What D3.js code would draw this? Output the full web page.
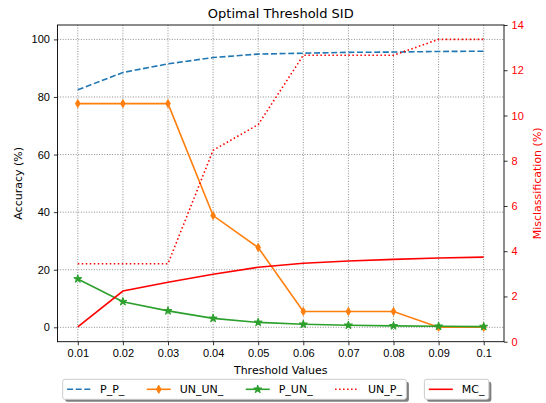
<!DOCTYPE html>
<html>
<head>
<meta charset="utf-8">
<script src="https://d3js.org/d3.v7.min.js"></script>
<style>
  body { margin: 0; padding: 0; background: #fff; }
  svg { display: block; font-family: "DejaVu Sans", sans-serif; }
  .grid line { stroke: #808080; stroke-width: 0.9; stroke-dasharray: 1,1.6; }
  .axis path { stroke: none; }
  .axis line { stroke: #000; stroke-width: 0.8; }
  .axis text { font-size: 11px; fill: #000; }
  .axis.right text { fill: #ff0000; }
</style>
</head>
<body>
<div id="chart"></div>
<script>
  // data
  var thresholds = [0.01, 0.02, 0.03, 0.04, 0.05, 0.06, 0.07, 0.08, 0.09, 0.1];
  var tickLabels = ["0.01", "0.02", "0.03", "0.04", "0.05", "0.06", "0.07", "0.08", "0.09", "0.1"];
  var accTicks = [0, 20, 40, 60, 80, 100];
  var misTicks = [0, 2, 4, 6, 8, 10, 12, 14];

  var P_P_   = [82.5, 88.5, 91.5, 93.7, 94.9, 95.2, 95.5, 95.6, 95.8, 95.9];
  var UN_UN_ = [77.7, 77.7, 77.7, 38.8, 27.7, 5.5, 5.5, 5.5, 0, 0];
  var P_UN_  = [16.8, 8.9, 5.7, 3.1, 1.7, 1.05, 0.7, 0.5, 0.35, 0.25];
  var UN_P_  = [22.1, 22.1, 22.1, 61.5, 70.4, 94.5, 94.5, 94.5, 100, 100];
  // right axis (misclassification %)
  var MC_    = [0.65, 2.24, 2.63, 2.98, 3.29, 3.47, 3.57, 3.64, 3.70, 3.74];

  var W = 546, H = 403,
      pL = 57.5, pR = 504, pT = 25, pB = 341.7;

  var x = d3.scaleLinear().domain([0.0055, 0.1045]).range([pL, pR]);
  var yL = d3.scaleLinear().domain([-5, 105]).range([pB, pT]);
  var yR = d3.scaleLinear().domain([0, 14]).range([pB, pT]);

  var svg = d3.select("#chart").append("svg")
      .attr("width", W)
      .attr("height", H);

  // grid
  var grid = svg.append("g").attr("class", "grid");
  grid.selectAll(".gx")
    .data(thresholds)
    .enter().append("line")
      .attr("x1", function(d) { return x(d); })
      .attr("x2", function(d) { return x(d); })
      .attr("y1", pT).attr("y2", pB);
  grid.selectAll(".gy")
    .data(accTicks)
    .enter().append("line")
      .attr("y1", function(d) { return yL(d); })
      .attr("y2", function(d) { return yL(d); })
      .attr("x1", pL).attr("x2", pR);

  // axes
  svg.append("g")
      .attr("class", "axis")
      .attr("transform", "translate(0," + pB + ")")
      .call(d3.axisBottom(x).tickValues(thresholds)
        .tickFormat(function(d, i) { return tickLabels[i]; })
        .tickSizeOuter(0).tickSize(3.6).tickPadding(4));

  svg.append("g")
      .attr("class", "axis")
      .attr("transform", "translate(" + pL + ",0)")
      .call(d3.axisLeft(yL).tickValues(accTicks).tickSizeOuter(0).tickSize(3.6).tickPadding(4));

  svg.append("g")
      .attr("class", "axis right")
      .attr("transform", "translate(" + pR + ",0)")
      .call(d3.axisRight(yR).tickValues(misTicks).tickSizeOuter(0).tickSize(3.6).tickPadding(4));

  // series
  var series = [
    { name: "P_P_",   values: P_P_,   y: yL, color: "#1f77b4", dash: "6,2.6", marker: null },
    { name: "UN_UN_", values: UN_UN_, y: yL, color: "#ff7f0e", dash: null, marker: "diamond" },
    { name: "P_UN_",  values: P_UN_,  y: yL, color: "#2ca02c", dash: null, marker: "star" },
    { name: "UN_P_",  values: UN_P_,  y: yL, color: "#ff0000", dash: "1.5,2.5", marker: null },
    { name: "MC_",    values: MC_,    y: yR, color: "#ff0000", dash: null, marker: null }
  ];

  var diamond = "M0,-4L2.3,0L0,4L-2.3,0Z";
  var star = d3.symbol().type(d3.symbolStar).size(20)();

  series.forEach(function(s) {
    var line = d3.line()
      .x(function(d, i) { return x(thresholds[i]); })
      .y(function(d) { return s.y(d); });
    svg.append("path")
      .datum(s.values)
      .attr("d", line)
      .attr("fill", "none")
      .attr("stroke", s.color)
      .attr("stroke-width", 1.6)
      .attr("stroke-dasharray", s.dash);
    if (s.marker) {
      svg.selectAll(".m-" + s.name)
        .data(s.values)
        .enter().append("path")
          .attr("class", "m-" + s.name)
          .attr("d", s.marker == "diamond" ? diamond : star)
          .attr("transform", function(d, i) { return "translate(" + x(thresholds[i]) + "," + s.y(d) + ")"; })
          .attr("fill", s.color)
          .attr("stroke", s.color)
          .attr("stroke-width", 1);
    }
  });

  // frame
  svg.append("rect")
      .attr("x", pL).attr("y", pT)
      .attr("width", pR - pL).attr("height", pB - pT)
      .attr("fill", "none")
      .attr("stroke", "#000")
      .attr("stroke-width", 0.9);

  // titles
  svg.append("text")
      .attr("x", (pL + pR) / 2).attr("y", 18)
      .attr("text-anchor", "middle")
      .style("font-size", "13px")
      .text("Optimal Threshold SID");

  svg.append("text")
      .attr("x", (pL + pR) / 2).attr("y", 374)
      .attr("text-anchor", "middle")
      .style("font-size", "11px")
      .text("Threshold Values");

  svg.append("text")
      .attr("transform", "translate(22," + (pT + pB) / 2 + ") rotate(-90)")
      .attr("text-anchor", "middle")
      .style("font-size", "11px")
      .text("Accuracy (%)");

  svg.append("text")
      .attr("transform", "translate(540.5," + (pT + pB) / 2 + ") rotate(-90)")
      .attr("text-anchor", "middle")
      .style("font-size", "11px")
      .style("fill", "#ff0000")
      .text("Misclassification (%)");

  // legends
  var pad = 4.4, handleLen = 24, handleGap = 9, colGap = 22.4, boxTop = 379.3, boxH = 20;

  function drawLegend(items, x0) {
    var g = svg.append("g");
    var shadow = g.append("rect"), box = g.append("rect");
    var cx = x0 + pad, cy = boxTop + boxH / 2;
    items.forEach(function(s, k) {
      if (k > 0) cx += colGap;
      g.append("line")
        .attr("x1", cx).attr("x2", cx + handleLen)
        .attr("y1", cy).attr("y2", cy)
        .attr("stroke", s.color)
        .attr("stroke-width", 1.6)
        .attr("stroke-dasharray", s.dash);
      if (s.marker) {
        g.append("path")
          .attr("d", s.marker == "diamond" ? diamond : star)
          .attr("transform", "translate(" + (cx + handleLen / 2) + "," + cy + ")")
          .attr("fill", s.color)
          .attr("stroke", s.color);
      }
      cx += handleLen + handleGap;
      var t = g.append("text")
        .attr("x", cx).attr("y", cy + 4)
        .style("font-size", "11px")
        .text(s.name);
      cx += t.node().getComputedTextLength();
    });
    var w = cx + pad - x0;
    shadow.attr("x", x0 + 2.5).attr("y", boxTop + 2.5)
      .attr("width", w).attr("height", boxH)
      .attr("rx", 2.2)
      .attr("fill", "#7f7f7f");
    box.attr("x", x0).attr("y", boxTop)
      .attr("width", w).attr("height", boxH)
      .attr("rx", 2.2)
      .attr("fill", "#fff")
      .attr("stroke", "#cccccc")
      .attr("stroke-width", 1);
    return x0 + w;
  }

  var end1 = drawLegend(series.slice(0, 4), 62.7);
  drawLegend(series.slice(4), end1 + 18);
</script>
</body>
</html>
